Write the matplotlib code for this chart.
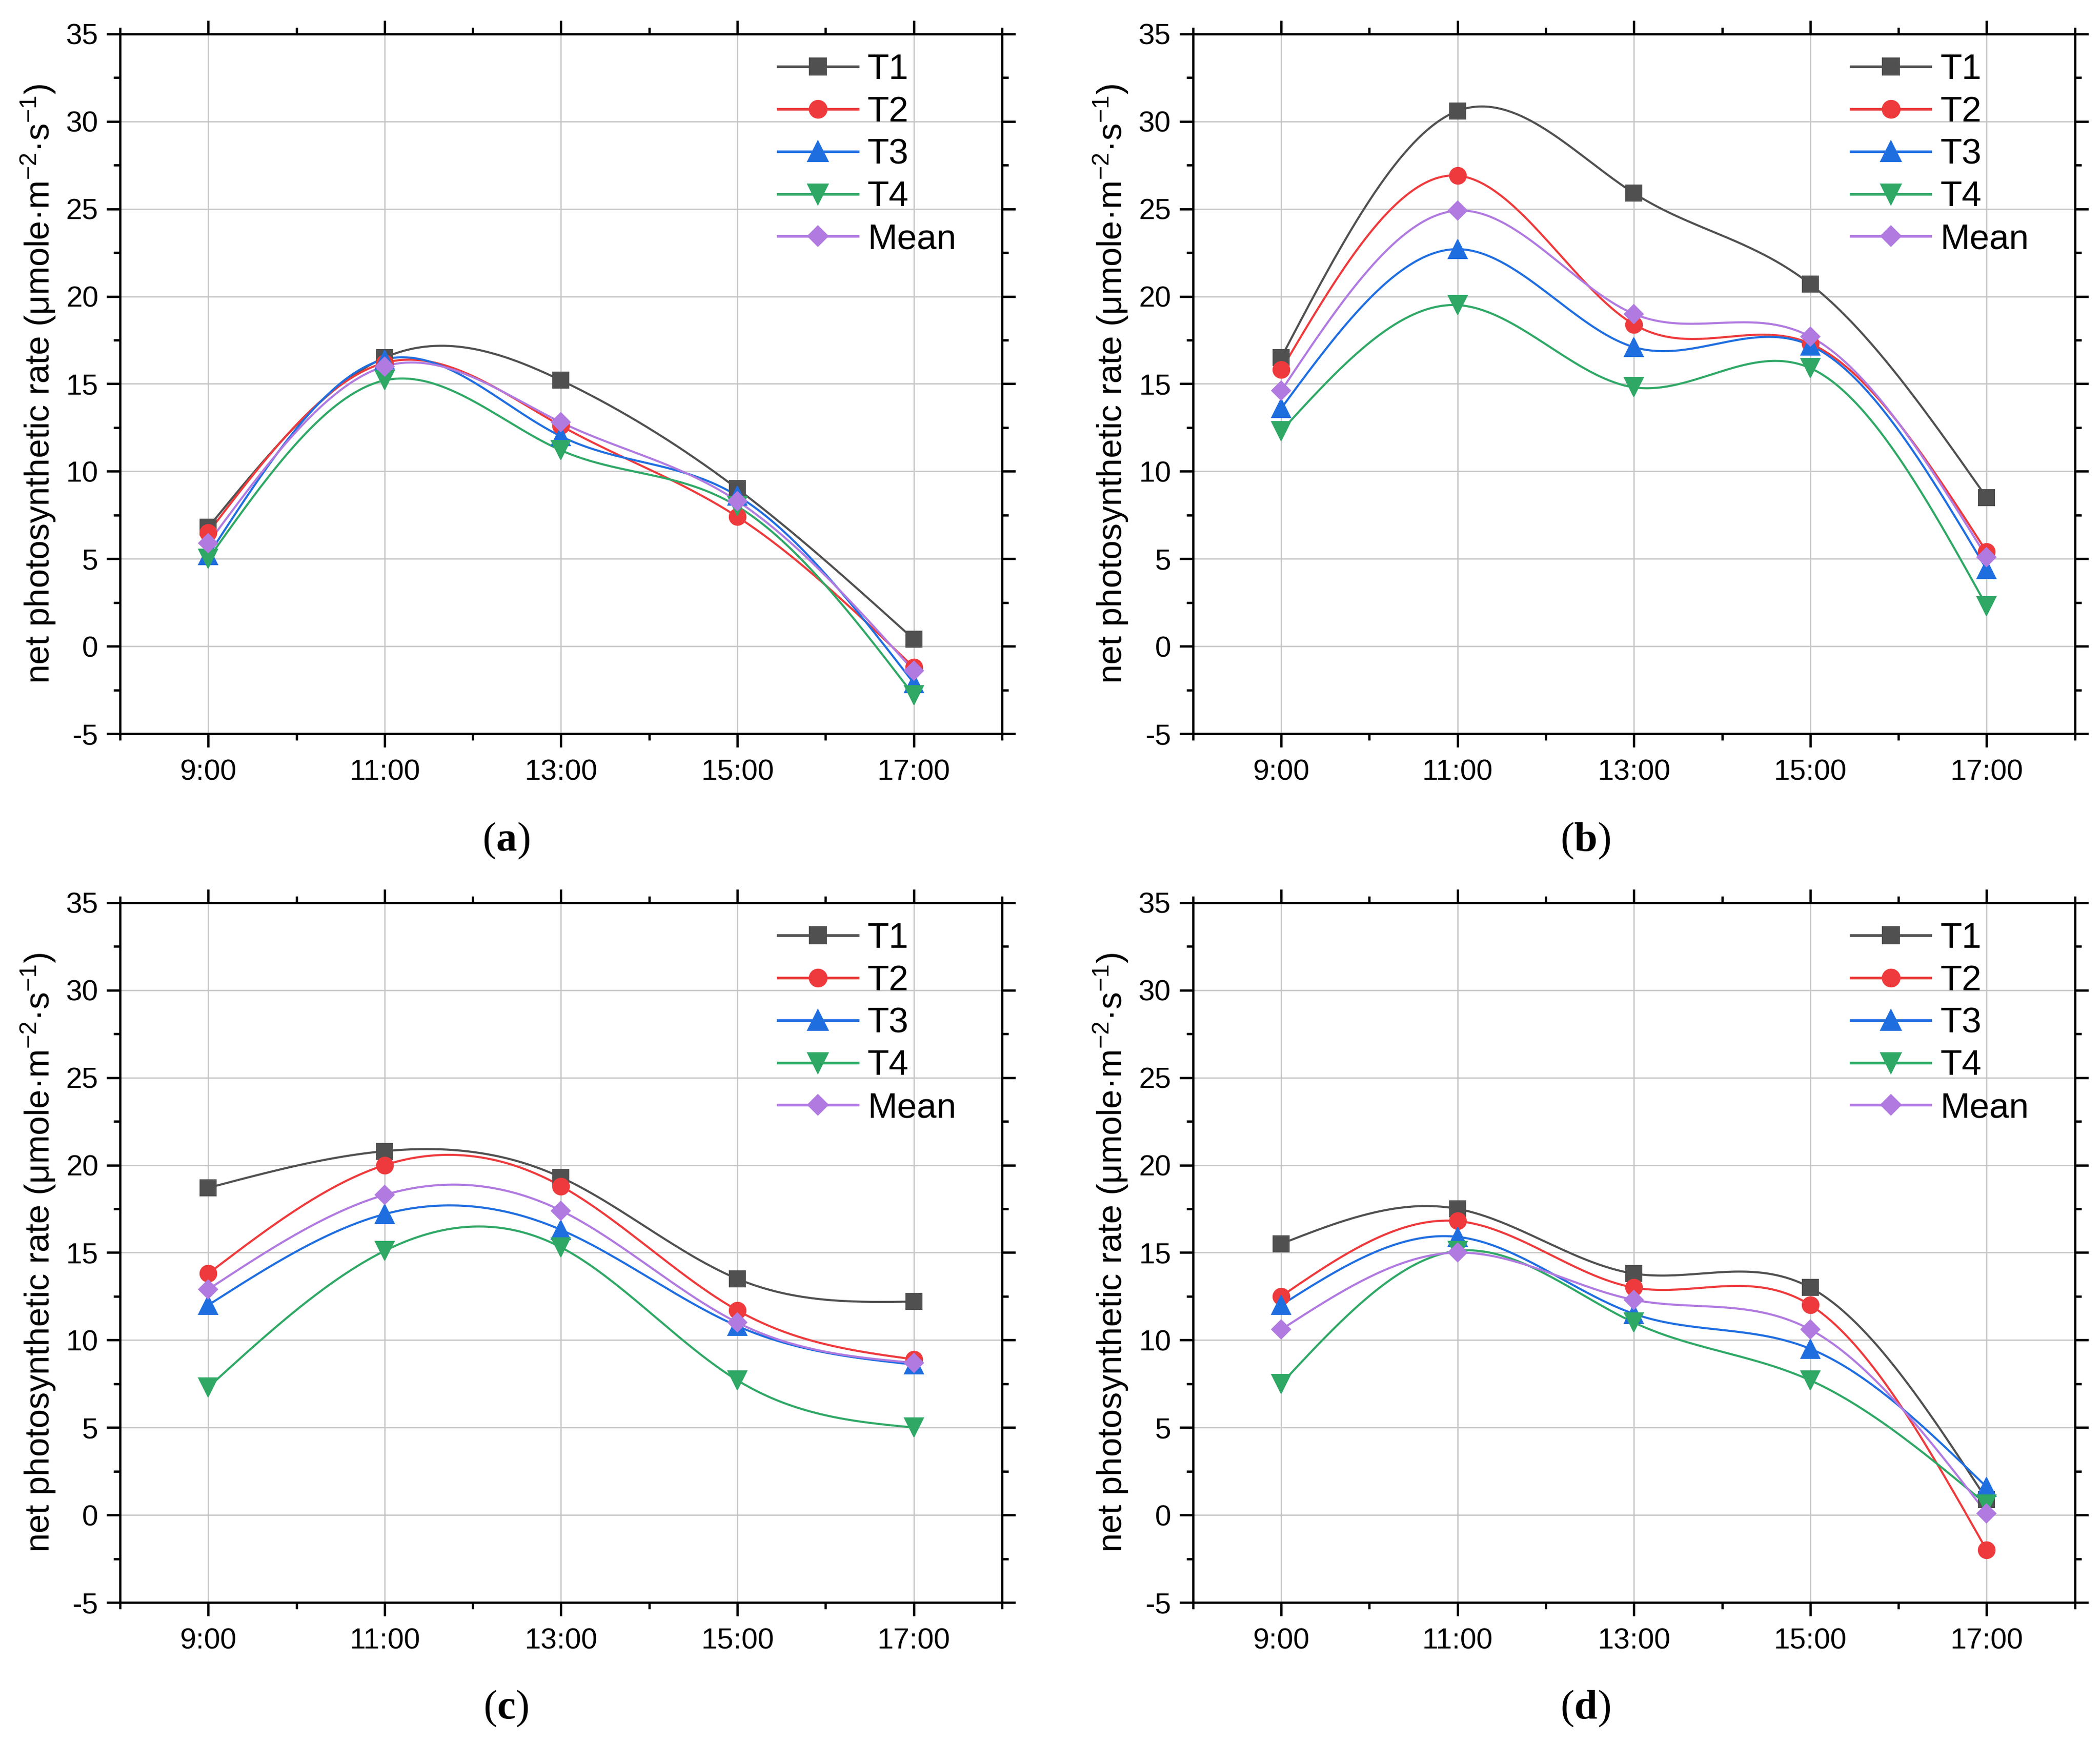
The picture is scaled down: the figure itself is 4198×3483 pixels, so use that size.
import numpy as np
import matplotlib.pyplot as plt
from matplotlib.lines import Line2D
from matplotlib.ticker import MultipleLocator, FixedLocator

plt.rcParams['font.family'] = ['Liberation Sans', 'DejaVu Sans']
plt.rcParams['mathtext.fontset'] = 'custom'
plt.rcParams['mathtext.default'] = 'regular'
plt.rcParams['mathtext.bf'] = 'Liberation Serif:bold'
plt.rcParams['axes.unicode_minus'] = False

times = ['9:00', '11:00', '13:00', '15:00', '17:00']
names = ['T1', 'T2', 'T3', 'T4', 'Mean']

# (a)
a_t1 = [6.8, 16.5, 15.2, 9.0, 0.4]
a_t2 = [6.5, 16.2, 12.6, 7.4, -1.2]
a_t3 = [5.2, 16.4, 12.0, 8.6, -2.1]
a_t4 = [5.0, 15.2, 11.2, 8.0, -2.8]
a_mean = [5.9, 16.0, 12.8, 8.3, -1.4]

# (b)
b_t1 = [16.5, 30.6, 25.9, 20.7, 8.5]
b_t2 = [15.8, 26.9, 18.4, 17.3, 5.4]
b_t3 = [13.6, 22.7, 17.1, 17.2, 4.4]
b_t4 = [12.3, 19.5, 14.8, 15.9, 2.3]
b_mean = [14.6, 24.9, 19.0, 17.7, 5.1]

# (c)
c_t1 = [18.7, 20.8, 19.3, 13.5, 12.2]
c_t2 = [13.8, 20.0, 18.8, 11.7, 8.9]
c_t3 = [12.0, 17.2, 16.3, 10.8, 8.6]
c_t4 = [7.3, 15.1, 15.3, 7.7, 5.0]
c_mean = [12.9, 18.3, 17.4, 11.0, 8.7]

# (d)
d_t1 = [15.5, 17.5, 13.8, 13.0, 0.9]
d_t2 = [12.5, 16.8, 13.0, 12.0, -2.0]
d_t3 = [12.0, 15.9, 11.5, 9.5, 1.6]
d_t4 = [7.5, 15.1, 11.0, 7.7, 0.6]
d_mean = [10.6, 15.0, 12.3, 10.6, 0.1]

panels = [
    ('a', [a_t1, a_t2, a_t3, a_t4, a_mean]),
    ('b', [b_t1, b_t2, b_t3, b_t4, b_mean]),
    ('c', [c_t1, c_t2, c_t3, c_t4, c_mean]),
    ('d', [d_t1, d_t2, d_t3, d_t4, d_mean]),
]

colors = ['#505050', '#ee3a3c', '#1f6ee0', '#2fa866', '#b07ae0']
markers = ['s', 'o', '^', 'v', 'D']
msizes = [7.5, 8, 9, 9, 6.3]


def spline(y, n=300):
    # natural cubic spline through the points, for the connecting line
    y = np.asarray(y, float)
    k = len(y)
    A = np.zeros((k, k))
    r = np.zeros(k)
    A[0, 0] = A[-1, -1] = 1
    for i in range(1, k - 1):
        A[i, i - 1:i + 2] = [1, 4, 1]
        r[i] = 6 * (y[i + 1] - 2 * y[i] + y[i - 1])
    M = np.linalg.solve(A, r)
    xs = np.linspace(0, k - 1, n)
    i = np.minimum(xs.astype(int), k - 2)
    t = xs - i
    ys = ((1 - t) * y[i] + t * y[i + 1]
          + ((1 - t) ** 3 - (1 - t)) * M[i] / 6 + (t ** 3 - t) * M[i + 1] / 6)
    return xs, ys


fig = plt.figure(figsize=(4198 / 300, 3483 / 300), dpi=300)

lefts = [0.0572, 0.5681, 0.0572, 0.5681]
bottoms = [0.5788, 0.5788, 0.0801, 0.0801]
cap_x = [0.241, 0.755, 0.241, 0.755]
cap_y = [0.5174, 0.5174, 0.0192, 0.0192]

x = np.arange(len(times))

for k, (letter, series) in enumerate(panels):
    ax = fig.add_axes([lefts[k], bottoms[k], 0.4199, 0.4017])
    ax.set_axisbelow(True)
    handles = []
    for y, c, m, ms, nm in zip(series, colors, markers, msizes, names):
        xs, ys = spline(y)
        ax.plot(xs, ys, color=c, lw=1.0, zorder=2)
        ax.plot(x, y, ls='none', marker=m, ms=ms, color=c, mec=c, mew=0.5, zorder=3)
        handles.append(Line2D([], [], color=c, lw=1.3, marker=m, ms=ms, mec=c, label=nm))

    ax.set_xlim(-0.5, 4.5)
    ax.set_ylim(-5, 35)
    ax.set_xticks(x)
    ax.set_xticklabels(times)
    ax.xaxis.set_minor_locator(FixedLocator(np.arange(-0.5, 4.6, 1.0)))
    ax.yaxis.set_major_locator(MultipleLocator(5))
    ax.yaxis.set_minor_locator(MultipleLocator(2.5))
    ax.tick_params(which='both', direction='out', top=True, right=True, width=1.1)
    ax.tick_params(which='major', length=6.5, labelsize=14, pad=4)
    ax.tick_params(axis='x', which='major', pad=5.5)
    ax.tick_params(which='minor', length=3.2)
    ax.grid(True, which='major', color='#c4c4c4', lw=0.6)
    for s in ax.spines.values():
        s.set_linewidth(1.1)

    ax.set_ylabel('net photosynthetic rate (\u03bcmole\u00b7m$^{-2}$\u00b7s$^{-1}$)',
                  fontsize=16.5, labelpad=4)

    ax.legend(handles=handles, loc='upper left', bbox_to_anchor=(0.746, 0.972),
              frameon=False, fontsize=17, handlelength=2.25, handletextpad=0.27,
              labelspacing=0.265, borderpad=0, borderaxespad=0)

    fig.text(cap_x[k], cap_y[k], r'($\mathbf{' + letter + '}$)',
             family='Liberation Serif', fontsize=20, ha='center', va='center')

fig.savefig('out.png', dpi=300)
